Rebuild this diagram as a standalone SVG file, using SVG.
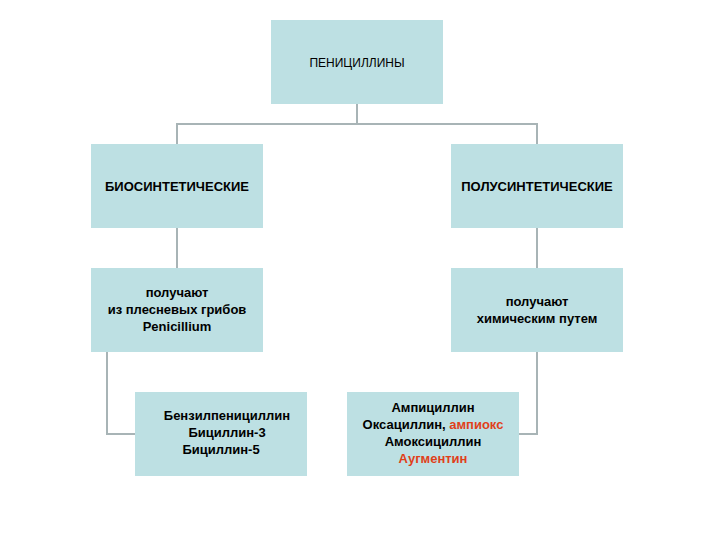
<svg xmlns="http://www.w3.org/2000/svg" width="720" height="540" viewBox="0 0 720 540">
<style>
.b{fill:#bde0e3}
.t{font-family:"Liberation Sans",Arial,sans-serif;font-size:13px;font-weight:bold;fill:#000;text-anchor:middle}
.n{font-weight:normal;font-size:12px}
.r{fill:#e0401a}
.c{fill:none;stroke:#a8b4b6;stroke-width:2}
</style>
<rect width="720" height="540" fill="#fff"/>
<g id="connectors">
<path class="c" d="M357 104V124M177 144V124H537V144"/>
<path class="c" d="M177 228V268M537 228V268"/>
<path class="c" d="M107 352V434H135M537 352V434H519"/>
</g>
<g id="root"><rect class="b" x="271" y="20" width="172" height="84"/><text class="t n" x="357" y="67">ПЕНИЦИЛЛИНЫ</text></g>
<g id="bio"><rect class="b" x="91" y="144" width="172" height="84"/><text class="t" x="177" y="191">БИОСИНТЕТИЧЕСКИЕ</text></g>
<g id="semi"><rect class="b" x="451" y="144" width="172" height="84"/><text class="t" x="537" y="191" font-size="12">ПОЛУСИНТЕТИЧЕСКИЕ</text></g>
<g id="bio2"><rect class="b" x="91" y="268" width="172" height="84"/><text class="t"><tspan x="177" y="297">получают</tspan><tspan x="177" y="314">из плесневых грибов</tspan><tspan x="177" y="331">Penicillium</tspan></text></g>
<g id="semi2"><rect class="b" x="451" y="268" width="172" height="84"/><text class="t"><tspan x="537" y="306">получают</tspan><tspan x="537" y="323">химическим путем</tspan></text></g>
<g id="bio3"><rect class="b" x="135" y="392" width="172" height="84"/><text class="t"><tspan x="227" y="420">Бензилпенициллин</tspan><tspan x="227" y="437">Бициллин-3</tspan><tspan x="221" y="454">Бициллин-5</tspan></text></g>
<g id="semi3"><rect class="b" x="347" y="392" width="172" height="84"/><text class="t"><tspan x="433" y="412">Ампициллин</tspan><tspan x="433" y="429">Оксациллин, <tspan class="r">ампиокс</tspan></tspan><tspan x="433" y="446">Амоксициллин</tspan><tspan x="433" y="463" class="r">Аугментин</tspan></text></g>
</svg>
